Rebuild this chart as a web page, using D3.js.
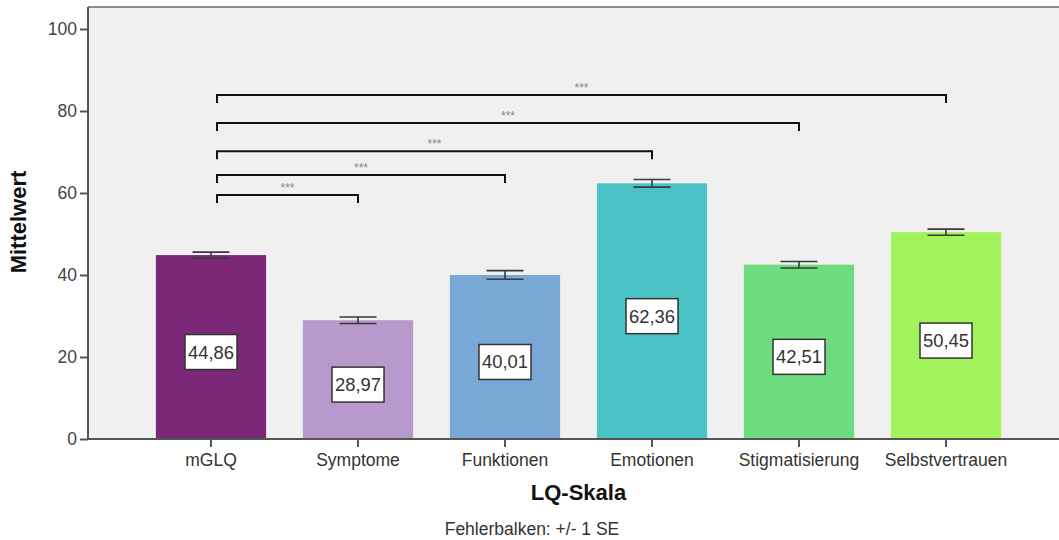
<!DOCTYPE html>
<html>
<head>
<meta charset="utf-8">
<script src="https://cdn.jsdelivr.net/npm/d3@7"></script>
<style>
  html, body { margin: 0; padding: 0; background: #fff; }
  svg { display: block; font-family: "Liberation Sans", Arial, sans-serif; }
</style>
</head>
<body>
<svg id="chart" width="1059" height="540"></svg>
<script>
// Mean scores per LQ scale with standard errors
const categories = ["mGLQ", "Symptome", "Funktionen", "Emotionen", "Stigmatisierung", "Selbstvertrauen"];
const means = [44.86, 28.97, 40.01, 62.36, 42.51, 50.45];
const stdErrors = [0.72, 0.8, 1.05, 0.92, 0.8, 0.75];
const barColors = ["#7b2879", "#b799cb", "#7aa8d6", "#4bc3c6", "#6edc7e", "#a2f25c"];
const yTicks = [0, 20, 40, 60, 80, 100];

// Significance comparisons: mGLQ against each subscale, bracket height in data units
const compareFrom = "mGLQ";
const compareTo = ["Symptome", "Funktionen", "Emotionen", "Stigmatisierung", "Selbstvertrauen"];
const compareLevel = [59.5, 64.4, 70.2, 77.1, 83.9];
const compareLabel = ["***", "***", "***", "***", "***"];

const svg = d3.select("#chart");
const plot = { left: 88, top: 7, right: 1069, bottom: 439 };

const x = d3.scaleBand()
  .domain(categories)
  .range([137.5, 1019.5])
  .paddingInner(0.25)
  .paddingOuter(0.125);

const y = d3.scaleLinear().domain([0, 100]).range([439, 29]);

// Plot background
svg.append("rect")
  .attr("x", plot.left).attr("y", plot.top)
  .attr("width", plot.right - plot.left).attr("height", plot.bottom - plot.top)
  .attr("fill", "#f0f0f0");

// Top frame line
svg.append("line")
  .attr("x1", plot.left).attr("x2", plot.right)
  .attr("y1", plot.top).attr("y2", plot.top)
  .attr("stroke", "#666").attr("stroke-width", 1.5);

// Bars
const idx = categories.map((c, i) => i);
svg.append("g").selectAll("rect")
  .data(idx).join("rect")
  .attr("x", i => x(categories[i]))
  .attr("y", i => y(means[i]))
  .attr("width", x.bandwidth())
  .attr("height", i => y(0) - y(means[i]))
  .attr("fill", i => barColors[i]);

// Error bars (+/- 1 SE)
const eb = svg.append("g").attr("stroke", "#3a3a3a").attr("stroke-width", 1.6);
idx.forEach(i => {
  const cx = x(categories[i]) + x.bandwidth() / 2;
  const hi = y(means[i] + stdErrors[i]);
  const lo = y(means[i] - stdErrors[i]);
  eb.append("line").attr("x1", cx).attr("x2", cx).attr("y1", hi).attr("y2", lo);
  eb.append("line").attr("x1", cx - 18.5).attr("x2", cx + 18.5).attr("y1", hi).attr("y2", hi);
  eb.append("line").attr("x1", cx - 18.5).attr("x2", cx + 18.5).attr("y1", lo).attr("y2", lo);
});

// Value labels in boxes at mid-height of each bar
const labels = svg.append("g");
idx.forEach(i => {
  const cx = x(categories[i]) + x.bandwidth() / 2;
  const cy = y(means[i] / 2) + 5;
  const txt = means[i].toFixed(2).replace(".", ",");
  labels.append("rect")
    .attr("x", cx - 26).attr("y", cy - 17.5)
    .attr("width", 52).attr("height", 35)
    .attr("fill", "#fff").attr("stroke", "#333").attr("stroke-width", 1.5);
  labels.append("text")
    .attr("x", cx).attr("y", cy + 6.5)
    .attr("text-anchor", "middle")
    .attr("font-size", 18.4).attr("fill", "#333")
    .text(txt);
});

// Significance brackets
const br = svg.append("g");
compareTo.forEach((c, k) => {
  const x1 = x(compareFrom) + x.bandwidth() / 2 + 6;
  const x2 = x(c) + x.bandwidth() / 2;
  const yl = y(compareLevel[k]);
  br.append("path")
    .attr("d", `M${x1},${yl + 8}V${yl}H${x2}V${yl + 8}`)
    .attr("fill", "none").attr("stroke", "#111").attr("stroke-width", 2);
  br.append("text")
    .attr("x", (x1 + x2) / 2).attr("y", yl - 3)
    .attr("text-anchor", "middle")
    .attr("font-size", 12).attr("fill", "#888")
    .text(compareLabel[k]);
});

// Y axis
const yAxis = svg.append("g")
  .attr("transform", `translate(${plot.left},0)`)
  .call(d3.axisLeft(y).tickValues(yTicks).tickSize(8).tickPadding(3));
yAxis.select(".domain").attr("d", `M0,${plot.top}V${plot.bottom}`).attr("stroke", "#555").attr("stroke-width", 2);
yAxis.selectAll(".tick line").attr("stroke", "#555").attr("stroke-width", 2);
yAxis.selectAll(".tick text").attr("font-size", 17.5).attr("fill", "#444")
  .attr("font-family", "Liberation Sans, Arial, sans-serif");

// X axis
const xAxis = svg.append("g")
  .attr("transform", `translate(0,${plot.bottom})`)
  .call(d3.axisBottom(x).tickSize(8).tickPadding(7));
xAxis.select(".domain").attr("d", `M${plot.left},0H${plot.right}`).attr("stroke", "#555").attr("stroke-width", 2);
xAxis.selectAll(".tick line").attr("stroke", "#555").attr("stroke-width", 2);
xAxis.selectAll(".tick text").attr("font-size", 17.5).attr("fill", "#333")
  .attr("font-family", "Liberation Sans, Arial, sans-serif");

// Axis titles and footnote
svg.append("text")
  .attr("x", (plot.left + plot.right) / 2).attr("y", 500)
  .attr("text-anchor", "middle").attr("font-size", 22).attr("font-weight", "bold").attr("fill", "#111")
  .text("LQ-Skala");

svg.append("text")
  .attr("transform", "translate(26,222) rotate(-90)")
  .attr("text-anchor", "middle").attr("font-size", 22).attr("font-weight", "bold").attr("fill", "#111")
  .text("Mittelwert");

svg.append("text")
  .attr("x", 532).attr("y", 535)
  .attr("text-anchor", "middle").attr("font-size", 17.5).attr("fill", "#333")
  .text("Fehlerbalken: +/- 1 SE");
</script>
</body>
</html>
